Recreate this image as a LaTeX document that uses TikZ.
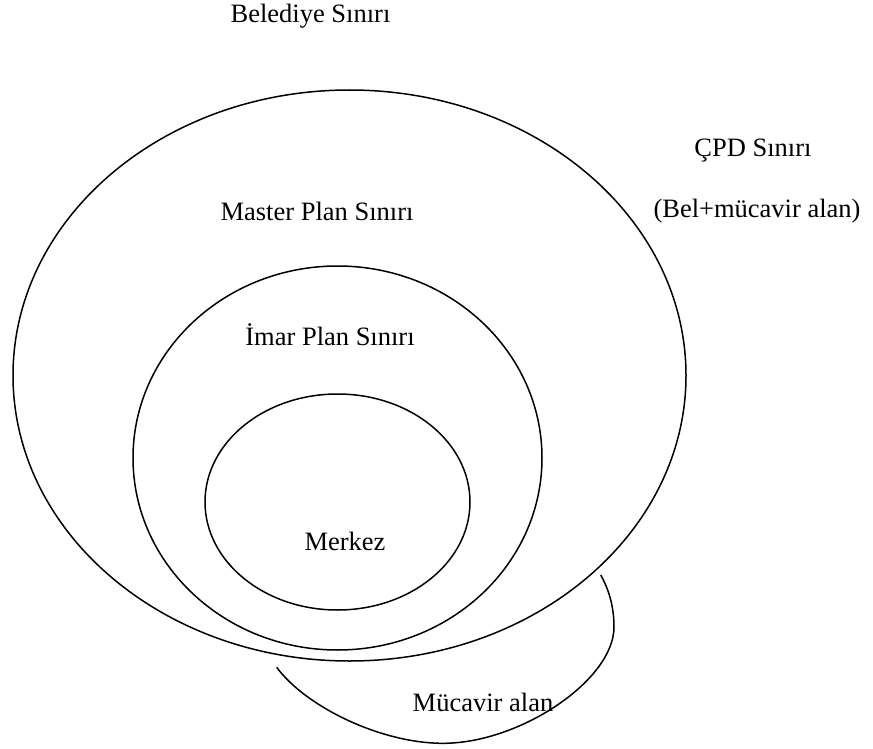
\documentclass[tikz,border=0pt]{standalone}
\usepackage{fontspec}
\setmainfont{Liberation Serif}
\usetikzlibrary{shapes.geometric}
\begin{document}
\begin{tikzpicture}[x=1pt,y=-1pt,
  ring/.style={draw=black, line width=1.5pt, ellipse, inner sep=0pt},
  label/.style={anchor=base, inner sep=0pt, font=\fontsize{26.5}{30}\selectfont},
  edge/.style={draw=black, line width=1.5pt}]
\useasboundingbox (0,0) rectangle (873,749);
% boundary rings, outermost first
\node[ring, minimum width=673pt, minimum height=571pt] (cpd) at (349.5,375.5) {};
\node[ring, minimum width=409pt, minimum height=384pt] (imar) at (337.5,458) {};
\node[ring, minimum width=265pt, minimum height=216pt] (merkez) at (337.5,502) {};
% open arc for the surrounding zone
\coordinate (arcA) at (276.7,667.3);
\coordinate (arcB) at (443,743.3);
\coordinate (arcC) at (614,627);
\coordinate (arcD) at (600.7,575);
\draw[edge] (arcA) .. controls (305,706) and (380,743.3) .. (arcB)
  .. controls (520,743.3) and (614,680) .. (arcC)
  .. controls (614,605) and (608,588) .. (arcD);
% labels
\node[label] (tBel) at (310.5,23) {Belediye Sınırı};
\node[label] (tCpd) at (753,157) {ÇPD Sınırı};
\node[label] (tBelMuc) at (757,217) {(Bel+mücavir alan)};
\node[label] (tMaster) at (317,220) {Master Plan Sınırı};
\node[label] (tImar) at (330,345) {İmar Plan Sınırı};
\node[label] (tMerkez) at (345,550) {Merkez};
\node[label] (tMuc) at (483,711) {Mücavir alan};
\end{tikzpicture}
\end{document}
